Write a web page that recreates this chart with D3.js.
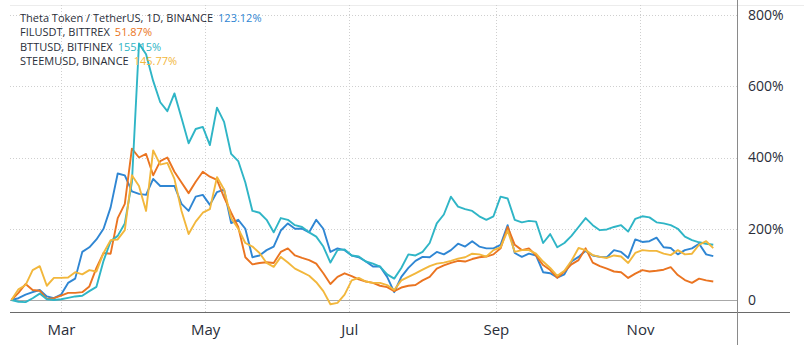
<!DOCTYPE html>
<meta charset="utf-8" />
<script src="https://d3js.org/d3.v7.min.js"></script>
<style>
  body { margin: 0; background: #fff; }
  text { font-family: "Open Sans", sans-serif; }
</style>
<body>
  <div id="my_dataviz"></div>
</body>
<script>
  // sampled every 3 days, starting 8 Feb 2021 (percent change from first bar)
  var startDate = new Date(2021, 1, 8);
  var stepDays = 3;

  var seriesNames = ["Theta Token / TetherUS, 1D, BINANCE", "FILUSDT, BITTREX", "BTTUSD, BITFINEX", "STEEMUSD, BINANCE"];
  var lastValues = ["123.12%", "51.87%", "155.15%", "145.77%"];
  var colors = ["#2f86d3", "#ea7421", "#2fb5c6", "#f2b73c"];

  var theta = [0, 5, 15, 22, 28, 10, 5, 15, 48, 60,
    135, 148, 170, 200, 260, 355, 350, 305, 298, 295,
    340, 320, 320, 320, 270, 250, 290, 295, 267, 303,
    310, 216, 225, 200, 120, 125, 140, 150, 195, 215,
    200, 200, 190, 225, 200, 135, 145, 140, 125, 120,
    108, 94, 94, 65, 22, 65, 90, 110, 121, 120,
    135, 128, 140, 158, 150, 165, 150, 145, 145, 155,
    210, 132, 121, 130, 125, 78, 75, 63, 72, 108,
    121, 138, 125, 121, 120, 140, 135, 118, 170, 163,
    165, 175, 148, 146, 128, 140, 145, 158, 128, 123.12];

  var fil = [0, 20, 45, 28, 26, 3, 5, 12, 20, 20,
    22, 38, 90, 132, 130, 230, 270, 425, 400, 410,
    350, 390, 400, 360, 330, 300, 332, 360, 346, 337,
    288, 245, 205, 120, 100, 104, 106, 104, 135, 145,
    125, 118, 112, 102, 75, 45, 65, 75, 67, 58,
    52, 48, 40, 36, 25, 35, 40, 42, 55, 65,
    88, 97, 104, 110, 108, 115, 120, 122, 128, 145,
    205, 155, 140, 145, 125, 98, 84, 62, 80, 100,
    112, 145, 105, 95, 88, 80, 78, 62, 74, 84,
    80, 82, 85, 92, 70, 56, 48, 60, 55, 51.87];

  var btt = [0, -5, -6, 5, 18, 2, 0, 2, 6, 10,
    12, 25, 37, 110, 165, 180, 215, 330, 720, 690,
    615, 555, 530, 580, 511, 440, 480, 486, 435, 540,
    500, 410, 390, 330, 250, 245, 225, 190, 230, 225,
    210, 205, 190, 178, 150, 105, 140, 142, 125, 122,
    108, 102, 94, 72, 60, 90, 128, 125, 135, 160,
    215, 240, 290, 262, 255, 250, 235, 225, 235, 290,
    285, 225, 218, 222, 220, 160, 185, 148, 160, 180,
    205, 230, 210, 196, 198, 205, 210, 192, 228, 235,
    232, 218, 215, 210, 200, 178, 168, 162, 158, 155.15];

  var steem = [0, 30, 42, 84, 95, 40, 62, 62, 63, 78,
    72, 84, 80, 132, 168, 170, 196, 350, 320, 250,
    420, 380, 385, 340, 250, 185, 220, 245, 255, 345,
    310, 230, 200, 160, 150, 132, 104, 93, 121, 105,
    88, 78, 68, 50, 25, -12, -8, 15, 55, 62,
    52, 48, 48, 42, 28, 55, 65, 75, 85, 95,
    102, 105, 110, 116, 120, 130, 128, 122, 140, 148,
    195, 135, 140, 140, 130, 108, 90, 68, 82, 110,
    146, 140, 126, 121, 118, 125, 122, 104, 132, 140,
    138, 138, 130, 126, 140, 128, 130, 155, 165, 145.77];

  var monthTicks = [new Date(2021, 2, 1), new Date(2021, 4, 1), new Date(2021, 6, 1), new Date(2021, 8, 1), new Date(2021, 10, 1)];
  var monthLabels = ["Mar", "May", "Jul", "Sep", "Nov"];
  var percentTicks = [0, 200, 400, 600, 800];

  var allSeries = [theta, fil, btt, steem];

  var width = 804, height = 353;
  var plotLeft = 10, axisX = 737, zeroY = 300, bottomY = 312;

  var svg = d3.select("#my_dataviz")
    .append("svg")
    .attr("width", width)
    .attr("height", height);

  var x = d3.scaleTime()
    .domain([monthTicks[0], monthTicks[4]])
    .range([61, 640]);

  var y = d3.scaleLinear()
    .domain([0, 800])
    .range([zeroY, 15]);

  // top border
  svg.append("line")
    .attr("x1", plotLeft).attr("x2", width)
    .attr("y1", 5.5).attr("y2", 5.5)
    .attr("stroke", "#ececec");

  // horizontal dotted grid
  svg.selectAll(".hgrid")
    .data(percentTicks.filter(function (d) { return d > 0; }))
    .enter()
    .append("line")
    .attr("class", "hgrid")
    .attr("x1", plotLeft).attr("x2", axisX)
    .attr("y1", function (d) { return Math.round(y(d)) + 0.5; })
    .attr("y2", function (d) { return Math.round(y(d)) + 0.5; })
    .attr("stroke", "#cfcfcf")
    .attr("stroke-dasharray", "1,2");

  // vertical dotted grid
  svg.selectAll(".vgrid")
    .data(monthTicks)
    .enter()
    .append("line")
    .attr("class", "vgrid")
    .attr("x1", function (d) { return Math.round(x(d)) + 0.5; })
    .attr("x2", function (d) { return Math.round(x(d)) + 0.5; })
    .attr("y1", 5).attr("y2", bottomY)
    .attr("stroke", "#cfcfcf")
    .attr("stroke-dasharray", "1,2");

  // zero line
  svg.append("line")
    .attr("x1", plotLeft).attr("x2", axisX)
    .attr("y1", Math.round(y(0)) + 0.5).attr("y2", Math.round(y(0)) + 0.5)
    .attr("stroke", "#a8a8a8");

  // series
  var line = d3.line()
    .x(function (d, i) { return x(d3.timeDay.offset(startDate, i * stepDays)); })
    .y(function (d) { return y(d); });

  svg.selectAll(".series")
    .data(allSeries)
    .enter()
    .append("path")
    .attr("class", "series")
    .attr("d", line)
    .attr("fill", "none")
    .attr("stroke", function (d, i) { return colors[i]; })
    .attr("stroke-width", 1.9)
    .attr("stroke-linejoin", "round");

  // bottom axis
  var xAxis = svg.append("g")
    .attr("transform", "translate(0," + bottomY + ")")
    .call(d3.axisBottom(x)
      .tickValues(monthTicks)
      .tickFormat(function (d, i) { return monthLabels[i]; })
      .tickSize(0)
      .tickPadding(12));
  xAxis.select(".domain").remove();
  xAxis.selectAll("text").attr("font-size", 15).attr("fill", "#2a2e39").attr("font-family", "Open Sans, sans-serif");

  svg.append("line")
    .attr("x1", plotLeft).attr("x2", 790)
    .attr("y1", bottomY + 0.5).attr("y2", bottomY + 0.5)
    .attr("stroke", "#6a6a6a");

  // right axis
  svg.append("line")
    .attr("x1", axisX + 0.5).attr("x2", axisX + 0.5)
    .attr("y1", 0).attr("y2", 345)
    .attr("stroke", "#8a8a8a");

  var yAxis = svg.append("g")
    .attr("transform", "translate(" + axisX + ",0)")
    .call(d3.axisRight(y)
      .tickValues(percentTicks)
      .tickFormat(function (d) { return d === 0 ? "0" : d + "%"; })
      .tickSize(0)
      .tickPadding(11));
  yAxis.select(".domain").remove();
  yAxis.selectAll("text").attr("font-size", 14).attr("fill", "#2a2e39").attr("font-family", "Open Sans, sans-serif");

  // legend
  var legend = svg.append("g").attr("transform", "translate(20,0)");
  seriesNames.forEach(function (name, i) {
    var yy = 22 + i * 14.3;
    var t = legend.append("text")
      .attr("x", 0).attr("y", yy)
      .attr("font-size", 11)
      .attr("fill", "#2a2e39")
      .text(name);
    var w = t.node().getComputedTextLength();
    legend.append("text")
      .attr("x", w + 5).attr("y", yy)
      .attr("font-size", 11)
      .attr("fill", colors[i])
      .text(lastValues[i]);
  });
</script>
